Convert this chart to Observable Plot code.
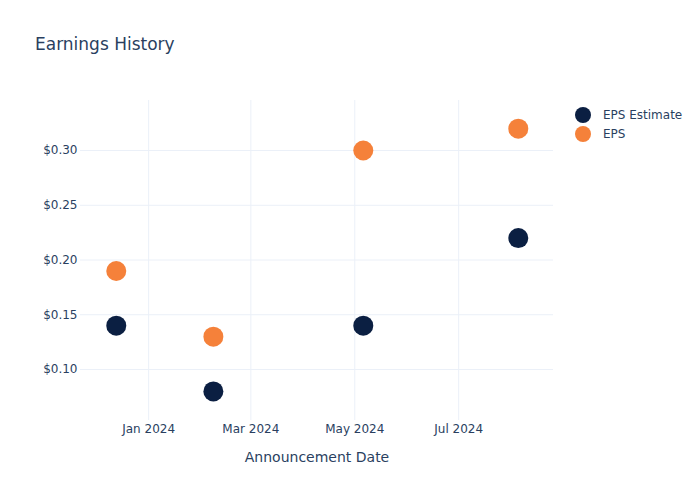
<!DOCTYPE html>
<html>
<head>
<meta charset="utf-8">
<script src="https://cdn.jsdelivr.net/npm/d3@7"></script>
<script src="https://cdn.jsdelivr.net/npm/@observablehq/plot@0.6"></script>
<style>
  body { margin: 0; background: #fff; font-family: "DejaVu Sans", sans-serif; }
  #wrap { position: relative; width: 700px; height: 500px; }
  #title { position: absolute; left: 35px; top: 34px; font-size: 17px; color: #2a3f5f; }
  .leg { position: absolute; left: 575px; font-size: 12px; color: #2a3f5f; display: flex; align-items: center; }
  .leg span.dot { display: inline-block; width: 16px; height: 16px; border-radius: 50%; margin-right: 12px; }
</style>
</head>
<body>
<div id="wrap">
  <div id="chart"></div>
  <div id="title">Earnings History</div>
  <div id="legend"></div>
</div>
<script>
const dates = ["2023-12-13", "2024-02-08", "2024-05-06", "2024-08-05"];
const epsEstimate = [0.14, 0.08, 0.14, 0.22];
const eps = [0.19, 0.13, 0.30, 0.32];
const seriesNames = ["EPS Estimate", "EPS"];
const seriesColors = ["#0b1f42", "#f5813a"];
const xTicks = ["2024-01-01", "2024-03-01", "2024-05-01", "2024-07-01"];
const yTicks = [0.10, 0.15, 0.20, 0.25, 0.30];

const data = [];
dates.forEach((d, i) => {
  data.push({date: new Date(d), value: epsEstimate[i], series: seriesNames[0]});
  data.push({date: new Date(d), value: eps[i], series: seriesNames[1]});
});

const chart = Plot.plot({
  width: 700,
  height: 500,
  marginLeft: 80,
  marginRight: 147,
  marginTop: 100,
  marginBottom: 80,
  style: {fontFamily: "DejaVu Sans, sans-serif", fontSize: "12px", color: "#2a3f5f", background: "#fff"},
  x: {
    type: "utc",
    domain: [new Date("2023-11-22T00:00Z"), new Date("2024-08-25T16:00Z")],
    label: null
  },
  y: {
    domain: [0.0534, 0.3457],
    label: null
  },
  color: {domain: seriesNames, range: seriesColors},
  marks: [
    Plot.gridX(xTicks.map(d => new Date(d)), {stroke: "#ebf0f8", strokeOpacity: 1, strokeWidth: 1}),
    Plot.gridY(yTicks, {stroke: "#ebf0f8", strokeOpacity: 1, strokeWidth: 1}),
    Plot.axisX({ticks: xTicks.map(d => new Date(d)), tickFormat: d3.utcFormat("%b %Y"), tickSize: 0, tickPadding: 4, fill: "#2a3f5f", label: null}),
    Plot.axisY({ticks: yTicks, tickFormat: d => "$" + d.toFixed(2), tickSize: 0, tickPadding: 3, fill: "#2a3f5f", label: null}),
    Plot.text(["Announcement Date"], {frameAnchor: "bottom", dy: 41, fontSize: 14, fill: "#2a3f5f"}),
    Plot.dot(data, {x: "date", y: "value", fill: "series", r: 10, stroke: "none"})
  ]
});
document.getElementById("chart").appendChild(chart);

const legend = document.getElementById("legend");
seriesNames.forEach((name, i) => {
  const row = document.createElement("div");
  row.className = "leg";
  row.style.top = (107 + i * 19) + "px";
  row.innerHTML = `<span class="dot" style="background:${seriesColors[i]}"></span>${name}`;
  legend.appendChild(row);
});
</script>
</body>
</html>
